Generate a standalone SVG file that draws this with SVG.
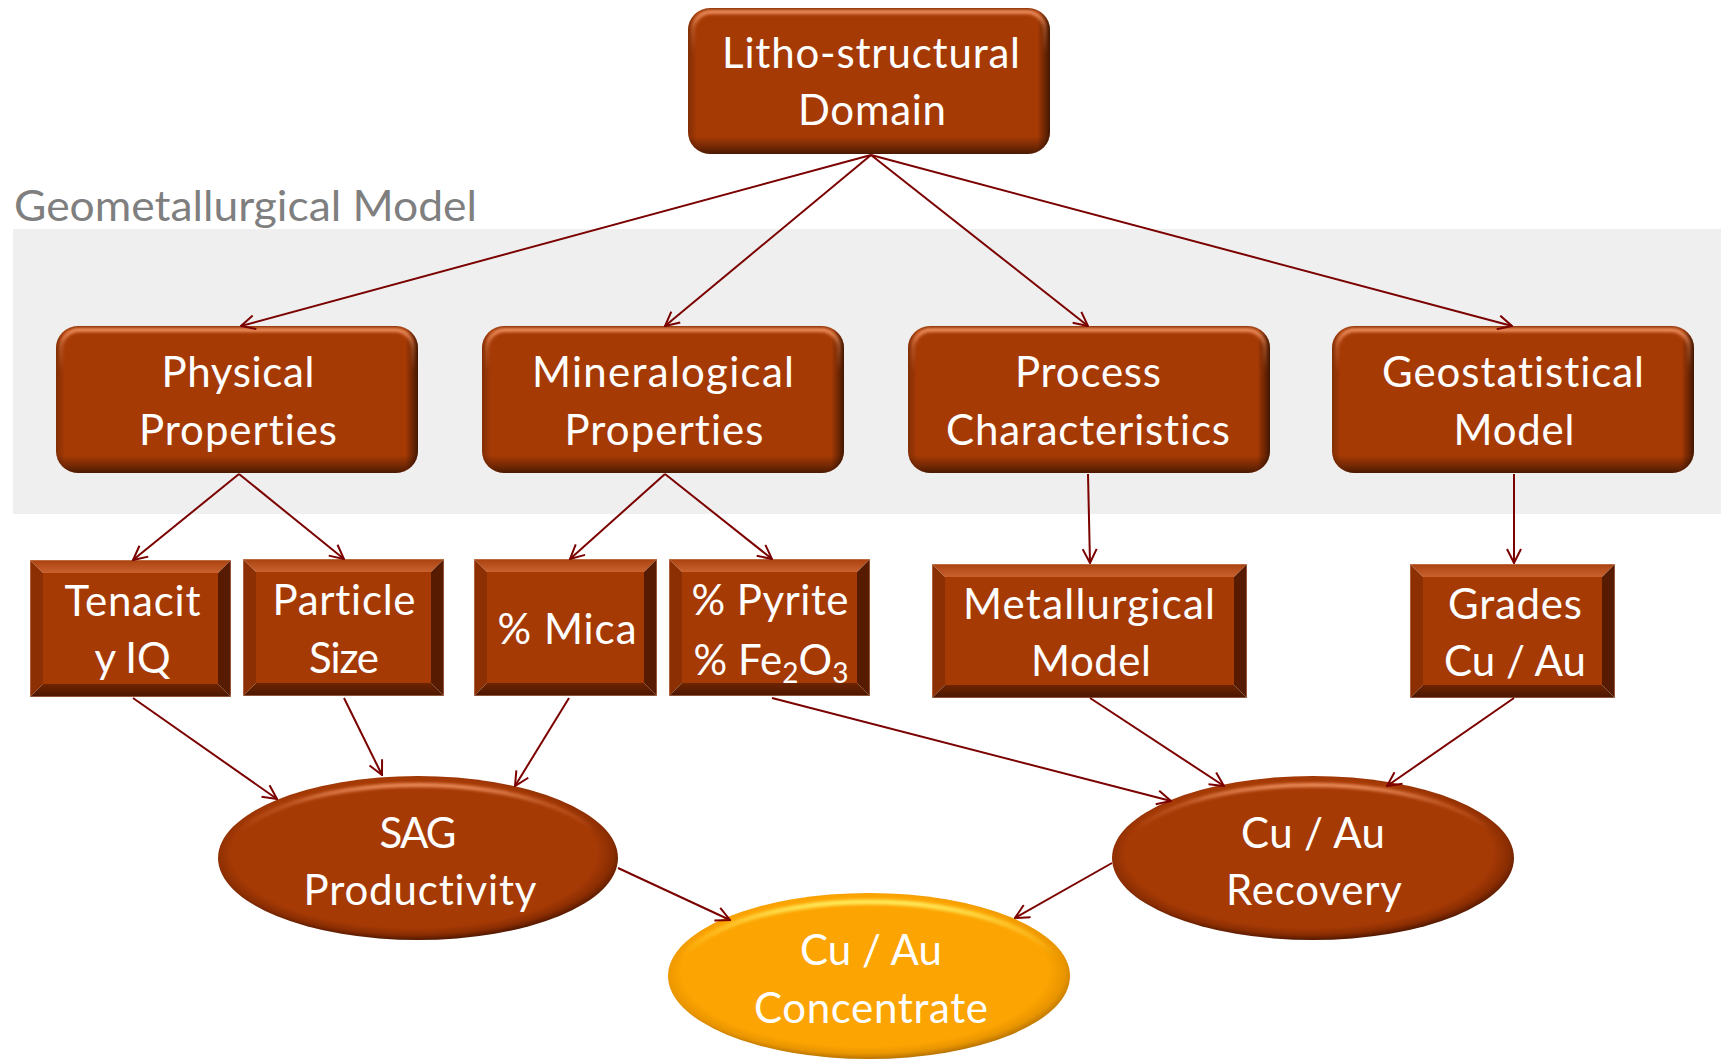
<svg xmlns="http://www.w3.org/2000/svg" width="1721" height="1061" viewBox="0 0 1721 1061">
<defs>
<style>
.base{fill:#a63a05}
.shV{fill:url(#rV)}
.shH{fill:url(#rH)}
.hl{fill:none;stroke:url(#hl);stroke-width:4;filter:url(#blur)}
.hlY{fill:none;stroke:url(#hlY);stroke-width:5;filter:url(#blur)}
.bt{fill:url(#bevTop)}
.bl{fill:#8c2f03}
.br{fill:#561b00}
.bb{fill:url(#bevBot)}
.edge{fill:none;stroke:#c98866;stroke-opacity:.55;stroke-width:1}
.lbl{font-family:Lato,"Liberation Sans",sans-serif;font-size:42px;fill:#ffffff;text-anchor:middle;font-variant-ligatures:none}
.title{font-family:Lato,"Liberation Sans",sans-serif;font-size:43px;fill:#7f7f7f;font-variant-ligatures:none}
.conn{stroke:#7b0000;stroke-width:2;fill:none;marker-end:url(#arr)}
</style>
<marker id="arr" viewBox="0 0 16 16" refX="15" refY="8" markerWidth="16" markerHeight="16" markerUnits="userSpaceOnUse" orient="auto">
<path d="M1,1 L15,8 L1,15" fill="none" stroke="#7b0000" stroke-width="2"/>
</marker>
<filter id="blur" x="-5%" y="-5%" width="110%" height="110%"><feGaussianBlur stdDeviation="1.6"/></filter>
<linearGradient id="rV" x1="0" y1="0" x2="0" y2="1">
<stop offset="0" stop-color="#000" stop-opacity=".18"/>
<stop offset=".03" stop-color="#000" stop-opacity="0"/>
<stop offset=".88" stop-color="#000" stop-opacity="0"/>
<stop offset=".95" stop-color="#000" stop-opacity=".3"/>
<stop offset="1" stop-color="#000" stop-opacity=".55"/>
</linearGradient>
<linearGradient id="rH" x1="0" y1="0" x2="1" y2="0">
<stop offset="0" stop-color="#000" stop-opacity=".22"/>
<stop offset=".025" stop-color="#000" stop-opacity="0"/>
<stop offset=".965" stop-color="#000" stop-opacity="0"/>
<stop offset="1" stop-color="#000" stop-opacity=".6"/>
</linearGradient>
<linearGradient id="hl" x1="0" y1="0" x2="0" y2="1">
<stop offset="0" stop-color="#f29463" stop-opacity=".95"/>
<stop offset=".12" stop-color="#f29463" stop-opacity=".35"/>
<stop offset=".3" stop-color="#f29463" stop-opacity="0"/>
</linearGradient>
<linearGradient id="hlY" x1="0" y1="0" x2="0" y2="1">
<stop offset="0" stop-color="#fff060" stop-opacity=".95"/>
<stop offset=".15" stop-color="#fff060" stop-opacity=".4"/>
<stop offset=".35" stop-color="#fff060" stop-opacity="0"/>
</linearGradient>
<linearGradient id="bevTop" x1="0" y1="0" x2="0" y2="1">
<stop offset="0" stop-color="#a9420f"/>
<stop offset="1" stop-color="#c9622f"/>
</linearGradient>
<linearGradient id="bevBot" x1="0" y1="0" x2="0" y2="1">
<stop offset="0" stop-color="#6e2401"/>
<stop offset="1" stop-color="#4a1600"/>
</linearGradient>
<radialGradient id="eBrown" cx=".49" cy=".47" r=".53">
<stop offset="0" stop-color="#a63a05"/>
<stop offset=".86" stop-color="#a63a05"/>
<stop offset=".94" stop-color="#8a2d02"/>
<stop offset="1" stop-color="#531800"/>
</radialGradient>
<radialGradient id="eOrange" cx=".49" cy=".47" r=".53">
<stop offset="0" stop-color="#fca402"/>
<stop offset=".86" stop-color="#fca402"/>
<stop offset=".94" stop-color="#e99500"/>
<stop offset="1" stop-color="#b87300"/>
</radialGradient>
</defs>

<rect x="13" y="229" width="1708" height="285" fill="#efefef"/>
<text class="title" x="14" y="221" textLength="463" lengthAdjust="spacingAndGlyphs">Geometallurgical Model</text>

<g id="litho">
<rect class="base" x="688" y="8" width="362" height="146" rx="22"/>
<rect class="shV" x="688" y="8" width="362" height="146" rx="22"/>
<rect class="shH" x="688" y="8" width="362" height="146" rx="22"/>
<rect class="hl" x="693" y="12" width="352" height="136" rx="18"/>
<text class="lbl" x="871" y="68" textLength="298">Litho-structural</text>
<text class="lbl" x="872" y="125" textLength="148">Domain</text>
</g>

<g id="physical">
<rect class="base" x="56" y="326" width="362" height="147" rx="22"/>
<rect class="shV" x="56" y="326" width="362" height="147" rx="22"/>
<rect class="shH" x="56" y="326" width="362" height="147" rx="22"/>
<rect class="hl" x="61" y="330" width="352" height="137" rx="18"/>
<text class="lbl" x="238" y="387" textLength="153">Physical</text>
<text class="lbl" x="238" y="445" textLength="198">Properties</text>
</g>

<g id="mineralogical">
<rect class="base" x="482" y="326" width="362" height="147" rx="22"/>
<rect class="shV" x="482" y="326" width="362" height="147" rx="22"/>
<rect class="shH" x="482" y="326" width="362" height="147" rx="22"/>
<rect class="hl" x="487" y="330" width="352" height="137" rx="18"/>
<text class="lbl" x="663" y="387" textLength="262">Mineralogical</text>
<text class="lbl" x="664" y="445" textLength="199">Properties</text>
</g>

<g id="process">
<rect class="base" x="908" y="326" width="362" height="147" rx="22"/>
<rect class="shV" x="908" y="326" width="362" height="147" rx="22"/>
<rect class="shH" x="908" y="326" width="362" height="147" rx="22"/>
<rect class="hl" x="913" y="330" width="352" height="137" rx="18"/>
<text class="lbl" x="1088" y="387" textLength="146">Process</text>
<text class="lbl" x="1088" y="445" textLength="284">Characteristics</text>
</g>

<g id="geostatistical">
<rect class="base" x="1332" y="326" width="362" height="147" rx="22"/>
<rect class="shV" x="1332" y="326" width="362" height="147" rx="22"/>
<rect class="shH" x="1332" y="326" width="362" height="147" rx="22"/>
<rect class="hl" x="1337" y="330" width="352" height="137" rx="18"/>
<text class="lbl" x="1513" y="387" textLength="262">Geostatistical</text>
<text class="lbl" x="1514" y="445" textLength="121">Model</text>
</g>

<g id="tenacity">
<rect class="base" x="43" y="573" width="175" height="111"/>
<polygon class="bt" points="30,560 231,560 218,573 43,573"/>
<polygon class="bl" points="30,560 43,573 43,684 30,697"/>
<polygon class="br" points="231,560 231,697 218,684 218,573"/>
<polygon class="bb" points="30,697 43,684 218,684 231,697"/>
<rect class="edge" x="30.5" y="560.5" width="200" height="136"/>
<text class="lbl" x="132.5" y="616" textLength="136">Tenacit</text>
<text class="lbl" x="132.5" y="673" textLength="76">y IQ</text>
</g>

<g id="particle">
<rect class="base" x="256" y="572" width="175" height="111"/>
<polygon class="bt" points="243,559 444,559 431,572 256,572"/>
<polygon class="bl" points="243,559 256,572 256,683 243,696"/>
<polygon class="br" points="444,559 444,696 431,683 431,572"/>
<polygon class="bb" points="243,696 256,683 431,683 444,696"/>
<rect class="edge" x="243.5" y="559.5" width="200" height="136"/>
<text class="lbl" x="344" y="615" textLength="143">Particle</text>
<text class="lbl" x="344" y="673" textLength="70">Size</text>
</g>

<g id="mica">
<rect class="base" x="487" y="572" width="157" height="111"/>
<polygon class="bt" points="474,559 657,559 644,572 487,572"/>
<polygon class="bl" points="474,559 487,572 487,683 474,696"/>
<polygon class="br" points="657,559 657,696 644,683 644,572"/>
<polygon class="bb" points="474,696 487,683 644,683 657,696"/>
<rect class="edge" x="474.5" y="559.5" width="182" height="136"/>
<text class="lbl" x="567" y="644" textLength="139">% Mica</text>
</g>

<g id="pyrite">
<rect class="base" x="682" y="572" width="175" height="111"/>
<polygon class="bt" points="669,559 870,559 857,572 682,572"/>
<polygon class="bl" points="669,559 682,572 682,683 669,696"/>
<polygon class="br" points="870,559 870,696 857,683 857,572"/>
<polygon class="bb" points="669,696 682,683 857,683 870,696"/>
<rect class="edge" x="669.5" y="559.5" width="200" height="136"/>
<text class="lbl" x="770" y="615" textLength="157">% Pyrite</text>
<text class="lbl" x="771" y="675" textLength="155">% Fe<tspan font-size="28" dy="8">2</tspan><tspan dy="-8">O</tspan><tspan font-size="28" dy="8">3</tspan></text>
</g>

<g id="metallurgical">
<rect class="base" x="945" y="577" width="289" height="108"/>
<polygon class="bt" points="932,564 1247,564 1234,577 945,577"/>
<polygon class="bl" points="932,564 945,577 945,685 932,698"/>
<polygon class="br" points="1247,564 1247,698 1234,685 1234,577"/>
<polygon class="bb" points="932,698 945,685 1234,685 1247,698"/>
<rect class="edge" x="932.5" y="564.5" width="314" height="133"/>
<text class="lbl" x="1089" y="619" textLength="252">Metallurgical</text>
<text class="lbl" x="1091" y="676" textLength="120">Model</text>
</g>

<g id="grades">
<rect class="base" x="1423" y="577" width="179" height="108"/>
<polygon class="bt" points="1410,564 1615,564 1602,577 1423,577"/>
<polygon class="bl" points="1410,564 1423,577 1423,685 1410,698"/>
<polygon class="br" points="1615,564 1615,698 1602,685 1602,577"/>
<polygon class="bb" points="1410,698 1423,685 1602,685 1615,698"/>
<rect class="edge" x="1410.5" y="564.5" width="204" height="133"/>
<text class="lbl" x="1515" y="619" textLength="134">Grades</text>
<text class="lbl" x="1515" y="676" textLength="142">Cu / Au</text>
</g>

<g id="sag">
<ellipse cx="418" cy="858" rx="200" ry="82" fill="url(#eBrown)"/>
<ellipse class="hl" cx="418" cy="861" rx="193" ry="76"/>
<text class="lbl" x="418" y="848" textLength="77">SAG</text>
<text class="lbl" x="420" y="905" textLength="233">Productivity</text>
</g>

<g id="recovery">
<ellipse cx="1313" cy="858" rx="201" ry="82" fill="url(#eBrown)"/>
<ellipse class="hl" cx="1313" cy="861" rx="194" ry="76"/>
<text class="lbl" x="1313" y="848" textLength="144">Cu / Au</text>
<text class="lbl" x="1314" y="905" textLength="176">Recovery</text>
</g>

<g id="concentrate">
<ellipse cx="869" cy="976" rx="201" ry="83" fill="url(#eOrange)"/>
<ellipse class="hlY" cx="869" cy="979" rx="194" ry="77"/>
<text class="lbl" x="871" y="965" textLength="142">Cu / Au</text>
<text class="lbl" x="871" y="1023" textLength="234">Concentrate</text>
</g>

<g id="connectors">
<line class="conn" x1="871" y1="155" x2="241" y2="326"/>
<line class="conn" x1="871" y1="155" x2="665" y2="326"/>
<line class="conn" x1="871" y1="155" x2="1088" y2="326"/>
<line class="conn" x1="871" y1="155" x2="1512" y2="326"/>
<line class="conn" x1="239" y1="474" x2="133" y2="560"/>
<line class="conn" x1="239" y1="474" x2="344" y2="559"/>
<line class="conn" x1="665" y1="474" x2="570" y2="559"/>
<line class="conn" x1="665" y1="474" x2="772" y2="559"/>
<line class="conn" x1="1088" y1="474" x2="1090" y2="563"/>
<line class="conn" x1="1514" y1="474" x2="1514" y2="563"/>
<line class="conn" x1="133" y1="698" x2="277" y2="799"/>
<line class="conn" x1="344" y1="698" x2="382" y2="775"/>
<line class="conn" x1="569" y1="698" x2="515" y2="786"/>
<line class="conn" x1="772" y1="698" x2="1171" y2="801"/>
<line class="conn" x1="1090" y1="698" x2="1224" y2="786"/>
<line class="conn" x1="1514" y1="698" x2="1387" y2="786"/>
<line class="conn" x1="618" y1="868" x2="730" y2="920"/>
<line class="conn" x1="1112" y1="863" x2="1015" y2="918"/>
</g>
</svg>
